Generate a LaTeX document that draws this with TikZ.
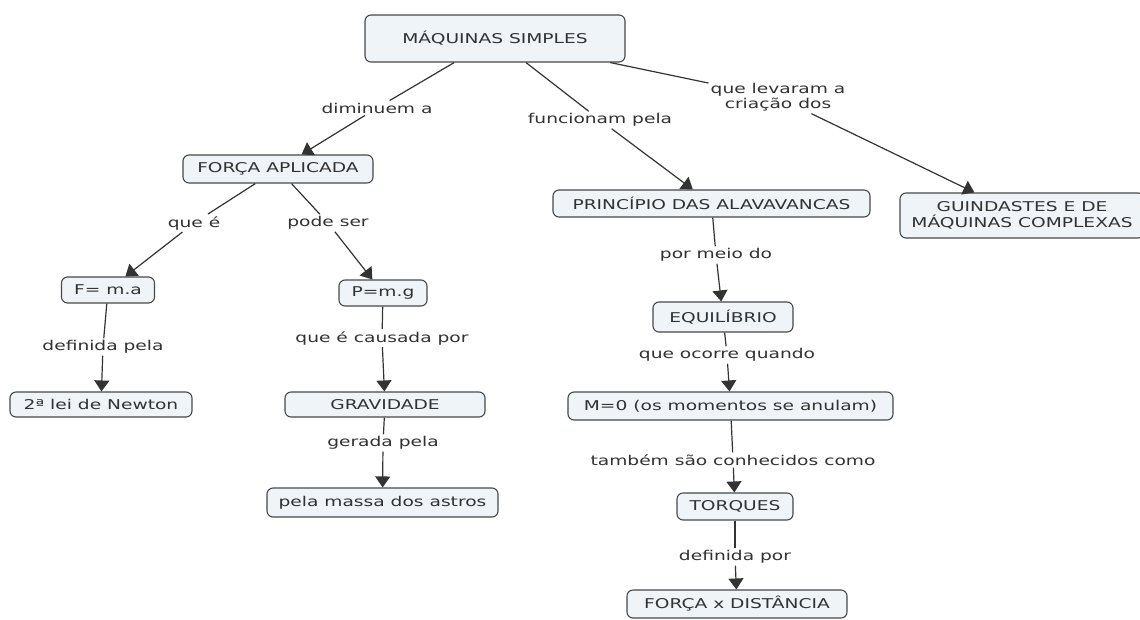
\documentclass[tikz,border=0pt]{standalone}
\usepackage{fontspec}
\setmainfont{DejaVu Sans}[FakeStretch=1.38]
\usepackage{tikz}
\usetikzlibrary{arrows.meta}
\definecolor{boxfill}{RGB}{238,244,247}
\definecolor{boxline}{RGB}{72,72,72}
\definecolor{inktext}{RGB}{50,50,50}
\tikzset{
  concept/.style={draw=boxline, line width=1.1pt, rounded corners=6pt, fill=boxfill,
    text=inktext, inner sep=0pt, align=center, font=\fontsize{13.5}{16}\selectfont},
  linkword/.style={fill=white, text=inktext, inner sep=2pt, align=center,
    font=\fontsize{13.5}{15}\selectfont},
  link/.style={draw=black!80, line width=1.2pt},
  arrowlink/.style={link, -{Triangle[width=15pt,length=11pt]}},
}
\begin{document}
\begin{tikzpicture}[x=1pt,y=-1pt]
\useasboundingbox (0,0) rectangle (1140,619);
% concepts:
\node[concept, minimum width=260pt, minimum height=47pt] (simples) at (495,38.5) {MÁQUINAS SIMPLES};
\node[concept, minimum width=190pt, minimum height=28pt] (forca) at (278,169) {FORÇA APLICADA};
\node[concept, minimum width=93pt, minimum height=26pt] (fma) at (108,290) {F= m.a};
\node[concept, minimum width=182pt, minimum height=25pt] (newton) at (101,404.5) {2ª lei de Newton};
\node[concept, minimum width=88pt, minimum height=26pt] (pmg) at (383,293) {P=m.g};
\node[concept, minimum width=200pt, minimum height=25pt] (grav) at (385,404.5) {GRAVIDADE};
\node[concept, minimum width=231pt, minimum height=29pt] (astros) at (382.5,502.5) {pela massa dos astros};
\node[concept, minimum width=317pt, minimum height=27pt] (alav) at (711.5,203.5) {PRINCÍPIO DAS ALAVAVANCAS};
\node[concept, minimum width=140pt, minimum height=30pt] (equil) at (723,317) {EQUILÍBRIO};
\node[concept, minimum width=325pt, minimum height=28pt] (momento) at (730.5,406) {M=0 (os momentos se anulam)};
\node[concept, minimum width=116pt, minimum height=27pt] (torques) at (735,506.5) {TORQUES};
\node[concept, minimum width=220pt, minimum height=28pt] (dist) at (737,604) {FORÇA x DISTÂNCIA};
\node[concept, minimum width=244pt, minimum height=45pt] (guind) at (1022,215.5) {GUINDASTES E DE\\MÁQUINAS COMPLEXAS};
% linking words:
\node[linkword] (diminuem) at (377,108) {diminuem a};
\node[linkword] (funcionam) at (600,120) {funcionam pela};
\node[linkword] (levaram) at (778,97.5) {que levaram a\\criação dos};
\node[linkword] (quee) at (194,223) {que é};
\node[linkword] (podeser) at (328,223) {pode ser};
\node[linkword] (defpela) at (103,347) {definida pela};
\node[linkword] (causada) at (382,338) {que é causada por};
\node[linkword] (gerada) at (383,443) {gerada pela};
\node[linkword] (meio) at (716,255) {por meio do};
\node[linkword] (ocorre) at (727,355) {que ocorre quando};
\node[linkword] (conhecidos) at (733,460) {também são conhecidos como};
\node[linkword] (defpor) at (735,557) {definida por};
% links:
\draw[link] (simples) -- (diminuem);
\draw[arrowlink] (diminuem) -- (forca);
\draw[link] (simples) -- (funcionam);
\draw[arrowlink] (funcionam) -- (alav);
\draw[link] (simples) -- (levaram);
\draw[arrowlink] (levaram) -- (guind);
\draw[link] (forca) -- (quee);
\draw[arrowlink] (quee) -- (fma);
\draw[link] (forca) -- (podeser);
\draw[arrowlink] (podeser) -- (pmg);
\draw[link] (fma) -- (defpela);
\draw[arrowlink] (defpela) -- (newton);
\draw[link] (pmg) -- (causada);
\draw[arrowlink] (causada) -- (grav);
\draw[link] (grav) -- (gerada);
\draw[arrowlink] (gerada) -- (astros);
\draw[link] (alav) -- (meio);
\draw[arrowlink] (meio) -- (equil);
\draw[link] (equil) -- (ocorre);
\draw[arrowlink] (ocorre) -- (momento);
\draw[link] (momento) -- (conhecidos);
\draw[arrowlink] (conhecidos) -- (torques);
\draw[link] (torques) -- (defpor);
\draw[arrowlink] (defpor) -- (dist);
\end{tikzpicture}
\end{document}
